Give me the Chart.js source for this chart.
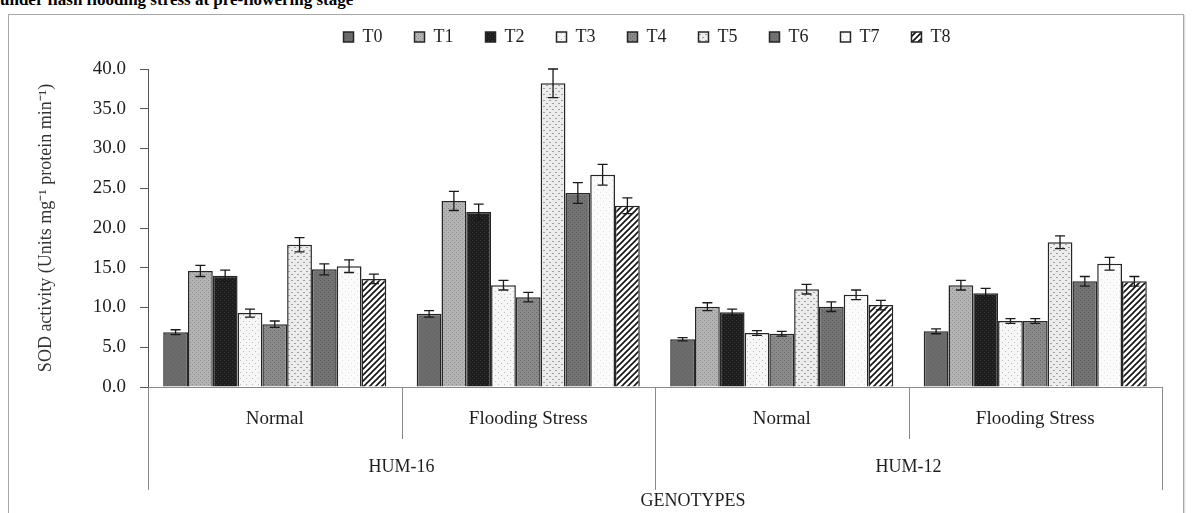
<!DOCTYPE html>
<html>
<head>
<meta charset="utf-8">
<script src="https://cdn.jsdelivr.net/npm/chart.js@4/dist/chart.umd.min.js"></script>
<style>
  body { margin: 0; background: #fff; }
  #cap { position: absolute; left: 0; top: -10px; font: bold 17px "Liberation Serif", serif; color: #000; white-space: nowrap; }
  #frame { position: absolute; left: 8px; top: 14px; width: 1174px; height: 520px; border: 1px solid #a8a8a8; box-shadow: 1px 1px 1px #ddd; }
  #wrap { position: absolute; left: 0; top: 0; width: 1197px; height: 513px; }
</style>
</head>
<body>
<div id="cap">under flash flooding stress at pre-flowering stage</div>
<div id="frame"></div>
<div id="wrap"><canvas id="myChart"></canvas></div>
<script>
// data
const categories = ["Normal", "Flooding Stress", "Normal", "Flooding Stress"];
const genotypes = ["HUM-16", "HUM-12"];
const seriesNames = ["T0", "T1", "T2", "T3", "T4", "T5", "T6", "T7", "T8"];
const yTicks = [0, 5, 10, 15, 20, 25, 30, 35, 40];

const T0 = [6.9, 9.2, 6.0, 7.0];
const T1 = [14.6, 23.4, 10.1, 12.8];
const T2 = [14.0, 22.0, 9.4, 11.8];
const T3 = [9.3, 12.8, 6.8, 8.3];
const T4 = [7.9, 11.3, 6.7, 8.3];
const T5 = [17.9, 38.2, 12.3, 18.2];
const T6 = [14.8, 24.4, 10.1, 13.3];
const T7 = [15.2, 26.7, 11.6, 15.5];
const T8 = [13.6, 22.8, 10.3, 13.3];

// standard errors
const errT0 = [0.3, 0.4, 0.2, 0.3];
const errT1 = [0.7, 1.2, 0.5, 0.6];
const errT2 = [0.7, 1.0, 0.4, 0.6];
const errT3 = [0.5, 0.6, 0.3, 0.3];
const errT4 = [0.4, 0.6, 0.3, 0.3];
const errT5 = [0.9, 1.8, 0.6, 0.8];
const errT6 = [0.7, 1.3, 0.6, 0.6];
const errT7 = [0.8, 1.3, 0.6, 0.8];
const errT8 = [0.6, 1.0, 0.6, 0.6];

const values = [T0, T1, T2, T3, T4, T5, T6, T7, T8];
const errors = [errT0, errT1, errT2, errT3, errT4, errT5, errT6, errT7, errT8];

const serif = "'Liberation Serif', 'Times New Roman', serif";

// small fill patterns like the excel textures
const makePattern = function (size, bg, draw) {
  const c = document.createElement("canvas");
  c.width = size;
  c.height = size;
  const g = c.getContext("2d");
  g.fillStyle = bg;
  g.fillRect(0, 0, size, size);
  draw(g);
  return g.createPattern(c, "repeat");
};
const dots = function (color, step) {
  return function (g) {
    g.fillStyle = color;
    g.fillRect(0, 0, 1, 1);
    g.fillRect(step, step, 1, 1);
  };
};
const fills = [
  makePattern(4, "#6c6c6c", dots("#606060", 2)),
  makePattern(4, "#b3b3b3", dots("#8c8c8c", 2)),
  makePattern(4, "#1e1e1e", dots("#3a3a3a", 2)),
  makePattern(6, "#f6f6f6", dots("#bdbdbd", 3)),
  makePattern(4, "#8a8a8a", dots("#666666", 2)),
  makePattern(6, "#ececec", function (g) {
    g.fillStyle = "#a0a0a0";
    g.fillRect(0, 1, 2, 1);
    g.fillRect(3, 4, 2, 1);
  }),
  makePattern(4, "#737373", dots("#5c5c5c", 2)),
  makePattern(6, "#fbfbfb", dots("#dddddd", 3)),
  makePattern(6, "#ffffff", function (g) {
    g.strokeStyle = "#111";
    g.lineWidth = 1.6;
    g.beginPath();
    g.moveTo(-1, 7); g.lineTo(7, -1);
    g.moveTo(-1, 1); g.lineTo(1, -1);
    g.moveTo(5, 7); g.lineTo(7, 5);
    g.stroke();
  }),
];

const datasets = seriesNames.map(function (name, i) {
  return {
    label: name,
    data: values[i],
    errors: errors[i],
    backgroundColor: fills[i],
    borderColor: "#262626",
    borderWidth: 1.5,
    categoryPercentage: 0.88,
    barPercentage: 1.0,
  };
});

// error bars drawn through the y scale
const errorBars = {
  id: "errorBars",
  afterDatasetsDraw(chart) {
    const ctx = chart.ctx;
    const y = chart.scales.y;
    ctx.save();
    ctx.strokeStyle = "#1a1a1a";
    ctx.lineWidth = 1.3;
    chart.data.datasets.forEach(function (ds, di) {
      chart.getDatasetMeta(di).data.forEach(function (bar, i) {
        const v = ds.data[i];
        const e = ds.errors[i];
        const top = y.getPixelForValue(v + e);
        const bot = y.getPixelForValue(v - e);
        ctx.beginPath();
        ctx.moveTo(bar.x, top); ctx.lineTo(bar.x, bot);
        ctx.moveTo(bar.x - 5, top); ctx.lineTo(bar.x + 5, top);
        ctx.moveTo(bar.x - 5, bot); ctx.lineTo(bar.x + 5, bot);
        ctx.stroke();
      });
    });
    ctx.restore();
  },
};

// legend size / place like the original
const legendPlace = {
  id: "legendPlace",
  afterInit(chart) {
    const lg = chart.legend;
    const fit = lg.fit;
    lg.fit = function () {
      fit.call(this);
      this.height = 69;
    };
  },
  afterLayout(chart) {
    const lg = chart.legend;
    lg.left = chart.chartArea.left - 8;
    lg.right = chart.chartArea.right - 8;
    lg.width = lg.right - lg.left;
    lg.top = -4;
  },
};

// two-level category axis: separators, genotype names, axis title
const groupAxis = {
  id: "groupAxis",
  afterDraw(chart) {
    const ctx = chart.ctx;
    const x = chart.scales.x;
    const base = chart.chartArea.bottom;
    const half = (x.getPixelForValue(1) - x.getPixelForValue(0)) / 2;
    ctx.save();
    ctx.strokeStyle = "#8a8a8a";
    ctx.lineWidth = 1;
    categories.forEach(function (c, i) {
      const left = x.getPixelForValue(i) - half;
      const len = i % 2 === 0 ? 103 : 52;
      ctx.beginPath();
      ctx.moveTo(Math.round(left) + 0.5, base);
      ctx.lineTo(Math.round(left) + 0.5, base + len);
      ctx.stroke();
    });
    const right = x.getPixelForValue(categories.length - 1) + half;
    ctx.beginPath();
    ctx.moveTo(Math.round(right) + 0.5, base);
    ctx.lineTo(Math.round(right) + 0.5, base + 103);
    ctx.stroke();

    ctx.fillStyle = "#1e1e1e";
    ctx.font = "18px " + serif;
    ctx.textAlign = "center";
    ctx.textBaseline = "middle";
    genotypes.forEach(function (gname, g) {
      const cx = (x.getPixelForValue(2 * g) + x.getPixelForValue(2 * g + 1)) / 2;
      ctx.fillText(gname, cx, base + 80);
    });
    ctx.fillText("GENOTYPES", (x.left + x.right) / 2 + 38, base + 114);
    ctx.restore();
  },
};

const ctx = document.getElementById("myChart");

const chart = new Chart(ctx, {
  type: "bar",
  data: {
    labels: categories,
    datasets: datasets,
  },
  plugins: [errorBars, legendPlace, groupAxis],
  options: {
    responsive: true,
    maintainAspectRatio: false,
    animation: false,
    layout: { padding: { left: 0, right: 35, top: 0, bottom: 0 } },
    plugins: {
      tooltip: { enabled: false },
      legend: {
        position: "top",
        labels: {
          boxWidth: 10,
          boxHeight: 10,
          padding: 32,
          color: "#1e1e1e",
          font: { family: serif, size: 18 },
        },
      },
    },
    scales: {
      x: {
        grid: { display: false, drawTicks: false },
        border: { display: true, color: "#8a8a8a", width: 1 },
        ticks: {
          color: "#1e1e1e",
          padding: 21,
          maxRotation: 0,
          font: { family: serif, size: 19 },
        },
        afterFit: function (s) {
          s.height = 126;
        },
      },
      y: {
        min: 0,
        max: 40,
        afterBuildTicks: function (s) {
          s.ticks = yTicks.map(function (v) { return { value: v }; });
        },
        grid: { drawOnChartArea: false, tickLength: 8, color: "#555" },
        border: { display: true, color: "#555", width: 1 },
        ticks: {
          color: "#1e1e1e",
          padding: 14,
          font: { family: serif, size: 19 },
          callback: function (value) {
            return value.toFixed(1);
          },
        },
        title: {
          display: true,
          text: "SOD activity (Units mg\u207B\u00B9 protein min\u207B\u00B9)",
          color: "#333",
          padding: { top: 35, bottom: 0 },
          font: { family: serif, size: 18 },
        },
        afterFit: function (s) {
          s.width = 148;
        },
      },
    },
  },
});
</script>
</body>
</html>
